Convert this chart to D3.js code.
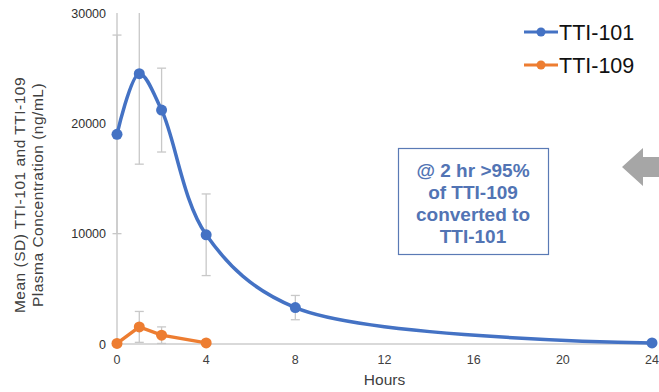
<!DOCTYPE html>
<html>
<head>
<meta charset="utf-8">
<script src="https://cdn.jsdelivr.net/npm/d3@7"></script>
<style>
  body { margin: 0; background: #fff; }
  svg { display: block; font-family: Arial, "Liberation Sans", sans-serif; }
</style>
</head>
<body>
<div id="chart"></div>
<script>
// data
var hours = [0, 1, 2, 4, 8, 24];
var tti101 = [19000, 24500, 21200, 9900, 3300, 100];
var tti101Sd = [9000, 8200, 3800, 3700, 1100, 0];
var hours109 = [0, 1, 2, 4];
var tti109 = [50, 1550, 800, 100];
var tti109Sd = [0, 1400, 750, 0];
var xTicks = [0, 4, 8, 12, 16, 20, 24];
var yTicks = [0, 10000, 20000, 30000];
var noteLines = ["@ 2 hr >95%", "of TTI-109", "converted to", "TTI-101"];

var width = 659, height = 392;
var blue = "#4472C4", orange = "#ED7D31";

var svg = d3.select("#chart").append("svg")
    .attr("width", width)
    .attr("height", height);

var x = d3.scaleLinear().domain([0, 24]).range([117, 652]);
var y = d3.scaleLinear().domain([0, 30000]).range([344, 13]);

// axes lines
svg.append("line")
    .attr("x1", x(0)).attr("x2", x(24))
    .attr("y1", y(0)).attr("y2", y(0))
    .attr("stroke", "#cccccc").attr("stroke-width", 1.5);
svg.append("line")
    .attr("x1", x(0)).attr("x2", x(0))
    .attr("y1", y(0)).attr("y2", y(30000))
    .attr("stroke", "#cccccc").attr("stroke-width", 1.5);

// tick labels
svg.append("g").selectAll("text")
  .data(xTicks).enter().append("text")
    .attr("x", function(d) { return x(d); })
    .attr("y", 364)
    .attr("text-anchor", "middle")
    .attr("font-size", 12.5)
    .attr("fill", "#404040")
    .text(function(d) { return d; });

svg.append("g").selectAll("text")
  .data(yTicks).enter().append("text")
    .attr("x", 106)
    .attr("y", function(d) { return y(d) + 4.5; })
    .attr("text-anchor", "end")
    .attr("font-size", 12.5)
    .attr("fill", "#303030")
    .text(function(d) { return d; });

svg.append("text")
    .attr("x", x(12)).attr("y", 385)
    .attr("text-anchor", "middle")
    .attr("font-size", 15.5)
    .attr("fill", "#404040")
    .text("Hours");

var ytitle = svg.append("text")
    .attr("transform", "translate(25,195) rotate(-90)")
    .attr("text-anchor", "middle")
    .attr("font-size", 15.5)
    .attr("letter-spacing", 0.5)
    .attr("fill", "#404040");
ytitle.append("tspan").attr("x", 0).attr("dy", 0).text("Mean (SD) TTI-101 and TTI-109");
ytitle.append("tspan").attr("x", 0).attr("dy", 17.5).text("Plasma Concentration (ng/mL)");

// error bars
function errorBars(xs, ms, sds) {
  var g = svg.append("g").attr("stroke", "#c8c8c8").attr("stroke-width", 1.3);
  xs.forEach(function(h, i) {
    if (!sds[i]) return;
    var hi = Math.min(ms[i] + sds[i], 30000), lo = Math.max(ms[i] - sds[i], 0);
    g.append("line").attr("x1", x(h)).attr("x2", x(h)).attr("y1", y(hi)).attr("y2", y(lo));
    if (ms[i] + sds[i] <= 30000)
      g.append("line").attr("x1", x(h) - 4.5).attr("x2", x(h) + 4.5).attr("y1", y(hi)).attr("y2", y(hi));
    if (lo > 0)
      g.append("line").attr("x1", x(h) - 4.5).attr("x2", x(h) + 4.5).attr("y1", y(lo)).attr("y2", y(lo));
  });
}
errorBars(hours, tti101, tti101Sd);
errorBars(hours109, tti109, tti109Sd);

// TTI-101 smoothed line
var smooth = d3.line()
    .x(function(d, i) { return x(hours[i]); })
    .y(function(d) { return y(d); })
    .curve(d3.curveCatmullRom.alpha(0.5));
svg.append("path")
    .attr("d", smooth(tti101))
    .attr("fill", "none").attr("stroke", blue).attr("stroke-width", 3.5);
svg.append("g").selectAll("circle")
  .data(tti101).enter().append("circle")
    .attr("cx", function(d, i) { return x(hours[i]); })
    .attr("cy", function(d) { return y(d); })
    .attr("r", 5.5).attr("fill", blue);

// TTI-109 straight line
var straight = d3.line()
    .x(function(d, i) { return x(hours109[i]); })
    .y(function(d) { return y(d); });
svg.append("path")
    .attr("d", straight(tti109))
    .attr("fill", "none").attr("stroke", orange).attr("stroke-width", 3.5);
svg.append("g").selectAll("circle")
  .data(tti109).enter().append("circle")
    .attr("cx", function(d, i) { return x(hours109[i]); })
    .attr("cy", function(d) { return y(d); })
    .attr("r", 5.5).attr("fill", orange);

// legend
var legend = [{name: "TTI-101", c: blue}, {name: "TTI-109", c: orange}];
var lg = svg.append("g").selectAll("g")
  .data(legend).enter().append("g")
    .attr("transform", function(d, i) { return "translate(524," + (32 + i * 33) + ")"; });
lg.append("line").attr("x1", 0).attr("x2", 34).attr("stroke", function(d) { return d.c; }).attr("stroke-width", 3);
lg.append("circle").attr("cx", 17).attr("r", 4.5).attr("fill", function(d) { return d.c; });
lg.append("text")
    .attr("x", 35).attr("y", 7.5)
    .attr("font-size", 21.5)
    .attr("fill", "#111")
    .text(function(d) { return d.name; });

// note box
svg.append("rect")
    .attr("x", 398.5).attr("y", 148.5)
    .attr("width", 150).attr("height", 106)
    .attr("fill", "none").attr("stroke", "#5a7ab5").attr("stroke-width", 1.2);
svg.append("g").selectAll("text")
  .data(noteLines).enter().append("text")
    .attr("x", 473)
    .attr("y", function(d, i) { return 177 + i * 22; })
    .attr("text-anchor", "middle")
    .attr("font-size", 19)
    .attr("font-weight", "bold")
    .attr("fill", "#5274b4")
    .text(function(d) { return d; });

// grey arrow on the right edge
svg.append("path")
    .attr("d", "M622,167 L643,148 L643,157 L659,157 L659,177 L643,177 L643,186 Z")
    .attr("fill", "#a6a6a6");
</script>
</body>
</html>
